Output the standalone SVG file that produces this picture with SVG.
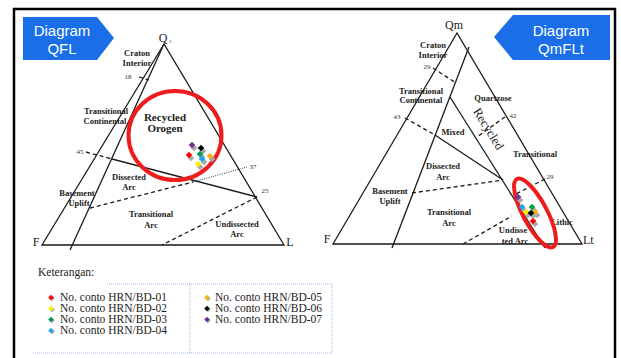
<svg xmlns="http://www.w3.org/2000/svg" width="621" height="358" viewBox="0 0 621 358">
<defs>
<style>
.tri{fill:none;stroke:#1a1a1a;stroke-width:1.3}
.dash{fill:none;stroke:#1a1a1a;stroke-width:1.3;stroke-dasharray:4 3}
.dot{fill:none;stroke:#333;stroke-width:1;stroke-dasharray:1 1.3}
.lbl{font-family:"Liberation Serif",serif;font-weight:bold;font-size:8.5px;fill:#222;text-anchor:middle}
.big{font-family:"Liberation Serif",serif;font-size:12px;fill:#222;text-anchor:middle}
.num{font-family:"Liberation Serif",serif;font-size:7px;fill:#333;text-anchor:middle}
.ban{fill:#1a6fe8}
.bt{font-family:"Liberation Sans",Arial,sans-serif;font-size:15px;fill:#fff;text-anchor:middle}
.leg{font-family:"Liberation Serif",serif;font-size:11.5px;fill:#222}
.ring{fill:none;stroke:#ee1c1c;stroke-width:4}
.sh{fill:#a9a9a9}
.lb{fill:none;stroke:#9bb7d9;stroke-width:1;stroke-dasharray:1 1}
</style>
<path id="dm" d="M0,-3.3 L3.3,0 L0,3.3 L-3.3,0Z"/>
<path id="dl" d="M0,-2.8 L2.8,0 L0,2.8 L-2.8,0Z"/>
</defs>
<rect x="0" y="0" width="621" height="358" fill="#fff"/>
<rect id="frame" x="14" y="9" width="601" height="360" fill="none" stroke="#000" stroke-width="2.5"/>

<g id="banner-qfl">
<polygon class="ban" points="23,17 97,17 114,38 97,60 23,60"/>
<text class="bt" x="62" y="36">Diagram</text>
<text class="bt" x="62" y="54">QFL</text>
</g>
<g id="banner-qmflt">
<polygon class="ban" points="494,37 513,15 610,15 610,60 513,60"/>
<text class="bt" x="561" y="36">Diagram</text>
<text class="bt" x="561" y="54">QmFLt</text>
</g>

<g id="qfl">
<g id="qfl-lines">
<polygon class="tri" points="164,44 42,245 284,245"/>
<line class="tri" x1="164" y1="44" x2="70" y2="250"/>
<line class="dash" x1="139" y1="77" x2="149" y2="80"/>
<line class="dash" x1="86" y1="152" x2="112" y2="159"/>
<line class="tri" x1="112" y1="159" x2="257" y2="197"/>
<line class="dash" x1="90" y1="208" x2="193" y2="182"/>
<line class="dot" x1="193" y1="182" x2="247" y2="167"/>
<line class="dash" x1="257" y1="197" x2="162" y2="245"/>
</g>
<g id="qfl-labels">
<text class="big" x="163" y="42">Q</text>
<text class="num" x="170" y="43" style="font-size:5px">3</text>
<text class="big" x="36" y="246">F</text>
<text class="big" x="290" y="246">L</text>
<text class="num" x="128" y="79">18</text>
<text class="num" x="80" y="154">45</text>
<text class="num" x="253" y="169">37</text>
<text class="num" x="265" y="193">25</text>
<text class="lbl" x="137" y="56">Craton</text>
<text class="lbl" x="137" y="66">Interior</text>
<text class="lbl" x="106" y="114">Transitional</text>
<text class="lbl" x="105" y="124">Continental</text>
<text class="big" x="165" y="121" style="font-weight:bold;font-size:11px">Recycled</text>
<text class="big" x="165" y="132" style="font-weight:bold;font-size:11px">Orogen</text>
<text class="lbl" x="129" y="180">Dissected</text>
<text class="lbl" x="129" y="190">Arc</text>
<text class="lbl" x="77" y="196">Basement</text>
<text class="lbl" x="79" y="206">Uplift</text>
<text class="lbl" x="151" y="217">Transitional</text>
<text class="lbl" x="151" y="228">Arc</text>
<text class="lbl" x="237" y="227">Undissected</text>
<text class="lbl" x="237" y="237">Arc</text>
</g>
<ellipse class="ring" cx="175" cy="135.5" rx="46.5" ry="44.5"/>
<g id="qfl-points">
<use href="#dm" x="194" y="148" class="sh"/><use href="#dm" x="192" y="145" fill="#7030a0"/>
<use href="#dm" x="203" y="151" class="sh"/><use href="#dm" x="201" y="148" fill="#000"/>
<use href="#dm" x="191" y="158" class="sh"/><use href="#dm" x="189" y="155" fill="#ff0000"/>
<use href="#dm" x="202" y="157" class="sh"/><use href="#dm" x="200" y="154" fill="#00a050"/>
<use href="#dm" x="212" y="159" class="sh"/><use href="#dm" x="210" y="156" fill="#f5b21a"/>
<use href="#dm" x="204" y="162" class="sh"/><use href="#dm" x="202" y="159" fill="#1ea5ee"/>
<use href="#dm" x="200" y="167" class="sh"/><use href="#dm" x="198" y="164" fill="#f8ee00"/>
</g>
</g>

<g id="qmflt">
<g id="qmflt-lines">
<polygon class="tri" points="457,33 333,244 582,244"/>
<line class="tri" x1="469" y1="47" x2="392" y2="248"/>
<line class="tri" x1="450" y1="97" x2="545" y2="248"/>
<line class="tri" x1="435" y1="135" x2="503" y2="180"/>
<line class="dash" x1="433" y1="68" x2="456" y2="83"/>
<line class="dash" x1="405" y1="118" x2="435" y2="135"/>
<line class="dash" x1="505" y1="117" x2="477" y2="137"/>
<line class="dash" x1="412" y1="193" x2="503" y2="180"/>
<line class="dash" x1="545" y1="179" x2="514" y2="195"/>
<line class="dash" x1="463" y1="244" x2="512" y2="216"/>
</g>
<g id="qmflt-labels">
<text class="big" x="454" y="29">Qm</text>
<text class="big" x="327" y="243">F</text>
<text class="big" x="583" y="244" style="text-anchor:start">Lt</text>
<text class="num" x="427" y="69">29</text>
<text class="num" x="397" y="119">43</text>
<text class="num" x="513" y="118">42</text>
<text class="num" x="550" y="179">29</text>
<text class="lbl" x="433" y="48">Craton</text>
<text class="lbl" x="433" y="58">Interior</text>
<text class="lbl" x="421" y="94">Transitional</text>
<text class="lbl" x="421" y="103">Continental</text>
<text class="lbl" x="493" y="101">Quartzose</text>
<text class="big" transform="translate(485,131) rotate(58)" style="font-size:12.5px">Recycled</text>
<text class="lbl" x="453" y="135">Mixed</text>
<text class="lbl" x="443" y="169">Dissected</text>
<text class="lbl" x="443" y="180">Arc</text>
<text class="lbl" x="535" y="157">Transitional</text>
<text class="lbl" x="390" y="194">Basement</text>
<text class="lbl" x="390" y="204">Uplift</text>
<text class="lbl" x="449" y="215">Transitional</text>
<text class="lbl" x="449" y="226">Arc</text>
<text class="lbl" x="513" y="233">Undisse</text>
<text class="lbl" x="515" y="244">ted Arc</text>
<text class="lbl" x="562" y="225">Lithic</text>
</g>
<ellipse class="ring" cx="535" cy="213" rx="38.5" ry="12" transform="rotate(62 535 213)"/>
<g id="qmflt-points">
<use href="#dm" x="520" y="200" class="sh"/><use href="#dm" x="518" y="197" fill="#7030a0"/>
<use href="#dm" x="524" y="210" class="sh"/><use href="#dm" x="522" y="207" fill="#1ea5ee"/>
<use href="#dm" x="534" y="210" class="sh"/><use href="#dm" x="532" y="207" fill="#00a050"/>
<use href="#dm" x="535" y="224" class="sh"/><use href="#dm" x="533" y="221" fill="#ff0000"/>
<use href="#dm" x="528" y="215" class="sh"/><use href="#dm" x="526" y="212" fill="#f8ee00"/>
<use href="#dm" x="537" y="215" class="sh"/><use href="#dm" x="535" y="212" fill="#f5b21a"/>
<use href="#dm" x="533" y="216" class="sh"/><use href="#dm" x="531" y="213" fill="#000"/>
</g>
</g>

<g id="legend">
<text class="leg" x="38" y="276">Keterangan:</text>
<path class="lb" d="M107,284 H332 V353 H33 M190,284 V353"/>
<use href="#dl" x="52" y="298.5" class="sh"/><use href="#dl" x="51" y="297.5" fill="#ff0000"/>
<use href="#dl" x="52" y="309.5" class="sh"/><use href="#dl" x="51" y="308.5" fill="#f8ee00"/>
<use href="#dl" x="52" y="320.5" class="sh"/><use href="#dl" x="51" y="319.5" fill="#00a050"/>
<use href="#dl" x="52" y="331.5" class="sh"/><use href="#dl" x="51" y="330.5" fill="#1ea5ee"/>
<text class="leg" x="60" y="301">No. conto HRN/BD-01</text>
<text class="leg" x="60" y="312">No. conto HRN/BD-02</text>
<text class="leg" x="60" y="323">No. conto HRN/BD-03</text>
<text class="leg" x="60" y="334">No. conto HRN/BD-04</text>
<use href="#dl" x="208" y="298.5" class="sh"/><use href="#dl" x="207" y="297.5" fill="#f5b21a"/>
<use href="#dl" x="208" y="309.5" class="sh"/><use href="#dl" x="207" y="308.5" fill="#000"/>
<use href="#dl" x="208" y="320.5" class="sh"/><use href="#dl" x="207" y="319.5" fill="#7030a0"/>
<text class="leg" x="215" y="301">No. conto HRN/BD-05</text>
<text class="leg" x="215" y="312">No. conto HRN/BD-06</text>
<text class="leg" x="215" y="323">No. conto HRN/BD-07</text>
</g>
</svg>
